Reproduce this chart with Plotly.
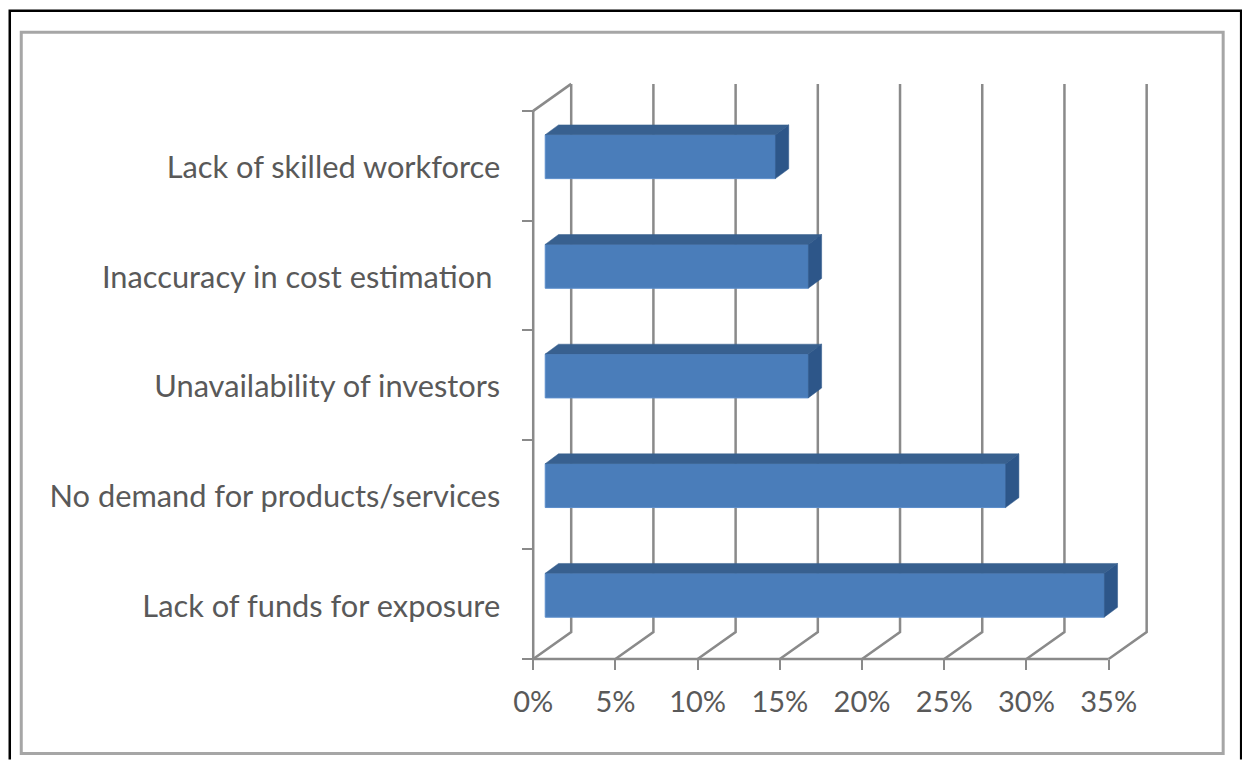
import plotly.graph_objects as go

# Barriers listed from the bottom band of the chart upward
categories = [
    "Lack of funds for exposure",
    "No demand for products/services",
    "Unavailability of investors",
    "Inaccuracy in cost estimation\u00a0",
    "Lack of skilled workforce",
]
shares = [34, 28, 16, 16, 14]
x_ticks = [0, 5, 10, 15, 20, 25, 30, 35]
x_tick_labels = ["0%", "5%", "10%", "15%", "20%", "25%", "30%", "35%"]

# Page layout in pixels: where 0%/35% and the first/last band edge fall
W, H = 1242, 760
LEFT, RIGHT, TOP, BOTTOM = 533.0, 1108.5, 110.7, 659.5
GREY = "#8a8a8a"
TEXT = "#595959"
FONT = "Lato"

# Oblique projection, in axis units
WALL_DX, WALL_DY = 2.31, 0.246    # depth of the back wall
BAR_X0, BAR_LIFT = 0.73, 0.082    # where the bar's front face sits
BAR_DX, BAR_DY = 0.81, 0.09       # depth of each bar
BAR_H = 0.40
LABEL_SHIFT = -0.015              # nudges category labels down a touch

FRONT, TOP_FACE, SIDE = "#4a7dba", "#38608f", "#2d5689"

# The axes run a little past the drawn frame so the depth faces are not clipped
n = len(categories)
x_max_tick = x_ticks[-1]
X_RANGE = [-0.5, x_max_tick + 3.0]
Y_RANGE = [-0.2, n + 0.4]
sx = (RIGHT - LEFT) / x_max_tick
sy = (BOTTOM - TOP) / n
plot_l = LEFT + X_RANGE[0] * sx
plot_r = LEFT + X_RANGE[1] * sx
plot_b = BOTTOM - Y_RANGE[0] * sy
plot_t = BOTTOM - Y_RANGE[1] * sy


def px_x(p):
    return (p - plot_l) / (plot_r - plot_l)


def px_y(p):
    return (plot_b - p) / (plot_b - plot_t)


def line_shape(points, color=GREY, width=2.5):
    path = "M " + " L ".join(f"{x} {y}" for x, y in points)
    return dict(type="path", xref="x", yref="y", layer="below", path=path,
                line=dict(color=color, width=width))


fig = go.Figure()

# Top and side faces of the bars
for i, v in enumerate(shares):
    mid = i + 0.5 + BAR_LIFT
    lo, hi = mid - BAR_H / 2, mid + BAR_H / 2
    right = BAR_X0 + v
    fig.add_trace(go.Scatter(
        x=[BAR_X0, BAR_X0 + BAR_DX, right + BAR_DX, right, BAR_X0],
        y=[hi, hi + BAR_DY, hi + BAR_DY, hi, hi],
        mode="lines", fill="toself", fillcolor=TOP_FACE,
        line=dict(color=TOP_FACE, width=0.5), hoverinfo="skip", showlegend=False))
    fig.add_trace(go.Scatter(
        x=[right, right + BAR_DX, right + BAR_DX, right, right],
        y=[hi, hi + BAR_DY, lo + BAR_DY, lo, hi],
        mode="lines", fill="toself", fillcolor=SIDE,
        line=dict(color=SIDE, width=0.5), hoverinfo="skip", showlegend=False))

# Front faces
fig.add_trace(go.Bar(
    x=shares, y=[i + 0.5 + BAR_LIFT for i in range(n)],
    base=BAR_X0, width=BAR_H, orientation="h",
    marker=dict(color=FRONT, line=dict(color="#5b8dcb", width=1)),
    customdata=categories, hovertemplate="%{customdata}: %{x}%<extra></extra>",
    showlegend=False))

# Back wall, floor diagonals and the two front axis lines sit under the bars
wall_shapes = [line_shape([(0, n), (WALL_DX, n + WALL_DY)])]
for t in x_ticks:
    wall_shapes.append(line_shape([(t, 0), (t + WALL_DX, WALL_DY), (t + WALL_DX, n + WALL_DY)]))
wall_shapes.append(line_shape([(0, n), (0, 0), (x_max_tick, 0)]))

frame_shapes = [
    # Chart-area border
    dict(type="rect", xref="paper", yref="paper", layer="below",
         x0=px_x(21), x1=px_x(1223), y0=px_y(754), y1=px_y(32),
         line=dict(color="#a6a6a6", width=3)),
    # Outer black rule: left, top and right sides
    dict(type="path", xref="paper", yref="paper", layer="below",
         path=f"M {px_x(9.5)} {px_y(760)} L {px_x(9.5)} {px_y(10.5)} "
              f"L {px_x(1241)} {px_y(10.5)} L {px_x(1241)} {px_y(760)}",
         line=dict(color="black", width=2.5)),
]

fig.update_layout(
    width=W, height=H, autosize=False,
    margin=dict(l=plot_l, r=W - plot_r, t=plot_t, b=H - plot_b, pad=0),
    paper_bgcolor="white", plot_bgcolor="rgba(0,0,0,0)",
    font=dict(family=FONT, size=30.8, color=TEXT),
    xaxis=dict(range=X_RANGE, tickmode="array", tickvals=x_ticks, ticktext=x_tick_labels,
               anchor="free", position=px_y(BOTTOM),
               showgrid=False, zeroline=False, showline=False,
               ticks="outside", ticklen=10, tickwidth=2, tickcolor=GREY,
               tickfont=dict(size=29), ticklabelstandoff=7, fixedrange=True),
    yaxis=dict(range=Y_RANGE, tickmode="array",
               tickvals=[i + 0.5 + LABEL_SHIFT for i in range(n)], ticktext=categories,
               anchor="free", position=px_x(LEFT),
               showgrid=False, zeroline=False, showline=False,
               ticks="", ticklabelstandoff=33, fixedrange=True,
               minor=dict(tickmode="array", tickvals=list(range(n + 1)),
                          ticks="outside", ticklen=11, tickwidth=2, tickcolor=GREY,
                          showgrid=False)),
    shapes=frame_shapes + wall_shapes,
)

fig.write_html("out.html")
